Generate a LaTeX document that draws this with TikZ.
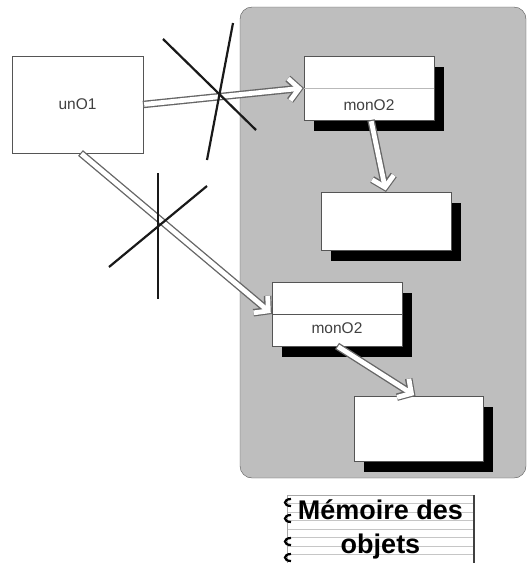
\documentclass[tikz,border=0pt]{standalone}
\usepackage{fontspec}
\setmainfont{Liberation Sans}
\usepackage{xcolor}
\usepackage{tikz}
\usetikzlibrary{arrows.meta, shadows}
\definecolor{heapgray}{RGB}{190, 190, 190}
\definecolor{edgegray}{RGB}{85, 85, 85}

\begin{document}
\begin{tikzpicture}[x=1pt, y=-1pt, >=Straight Barb]
    \tikzstyle{object} = [rectangle, draw=edgegray, fill=white, anchor=north west, inner sep=0pt, outer sep=0pt, minimum width=130pt, text=black!75, font=\fontsize{15.5}{18}\selectfont]
    \tikzstyle{shadowed} = [object, general shadow={fill=black, shadow xshift=10pt, shadow yshift=-11pt}]
    \tikzstyle{ref} = [draw=black!60, line width=7.5pt, -{Straight Barb[length=10pt, width=22pt]}, postaction={draw=white, line width=4.8pt, shorten >=1.6pt, shorten <=1.2pt, -{Straight Barb[length=10pt, width=22pt]}}]
    \tikzstyle{cross} = [line width=2.2pt, black!90]
    \tikzstyle{memo} = [rectangle, draw=gray!70, fill=white, minimum width=187pt, minimum height=68pt, inner sep=0pt, align=center, font=\bfseries\fontsize{27}{34}\selectfont,
        path picture={\foreach \k in {1,...,7} \draw[gray!45] ([yshift=-\k*8.5pt]path picture bounding box.north west) -- ([yshift=-\k*8.5pt]path picture bounding box.north east);}]

    \useasboundingbox (0,0) rectangle (527,563);

    % object memory
    \draw[edgegray, fill=heapgray, rounded corners=12pt] (240,7) rectangle (526,478);

    \node[object, minimum width=131pt, minimum height=97pt] (unO1) at (12,56) {unO1};
    \node[shadowed, minimum height=64pt] (monA) at (304,56) {};
    \node[shadowed, minimum height=58pt] (objB) at (321,192) {};
    \node[shadowed, minimum height=64pt] (monC) at (272,282) {};
    \node[shadowed, minimum width=129pt, minimum height=65pt] (objD) at (354,396) {};

    \draw[gray!55] (monA.west) -- (monA.east);
    \draw[edgegray] (monC.west) -- (monC.east);
    \node[text=black!75, font=\fontsize{15.5}{18}\selectfont] (nameA) at ([yshift=-17pt]monA.center) {monO2};
    \node[text=black!75, font=\fontsize{15.5}{18}\selectfont] (nameC) at ([yshift=-14pt]monC.center) {monO2};

    \draw[ref] (unO1.east) -- (monA.west);
    \draw[ref] ([xshift=3pt]unO1.south) -- (monC.west);
    \draw[ref] ([xshift=2pt]monA.south) -- (objB.north);
    \draw[ref] (monC.south) -- ([xshift=-3pt]objD.north);

    % crossed out references
    \draw[cross] (163,39) -- (256,130);
    \draw[cross] (233,23) -- (207,160);
    \draw[cross, line width=1.6pt] (158,173) -- (158,299);
    \draw[cross] (109,267) -- (207,186);

    % caption
    \node[memo] (memo) at (380.5,529) {Mémoire des\\objets};
    \draw[line width=2.5pt, black!75] (memo.north east) -- (memo.south east);
    \foreach \y in {503,519,542,558}
        \draw[line width=2.2pt] (291,\y-4) .. controls (283,\y-4) and (283,\y+3) .. (291,\y+3);
\end{tikzpicture}
\end{document}
